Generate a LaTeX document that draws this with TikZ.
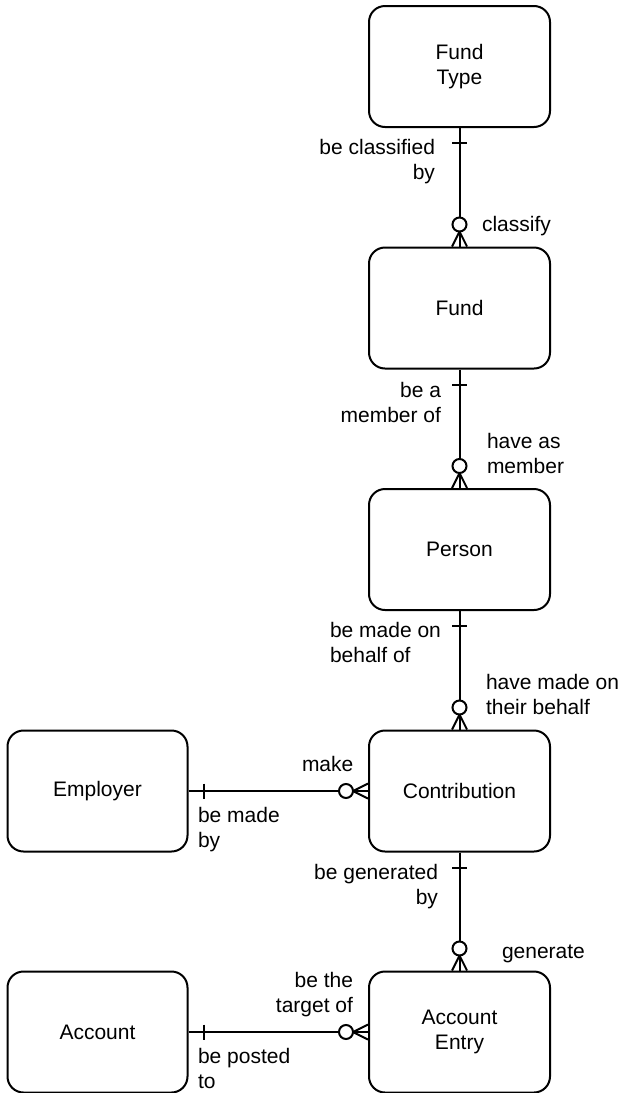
\documentclass[tikz,border=0pt]{standalone}
\usepackage{fontspec}
\setmainfont{Liberation Sans}
\usetikzlibrary{calc}
\newcommand\erfont{\fontsize{21}{25}\selectfont}
% vertical relationship: one (tick) at #1, zero-or-many (circle + crow's foot) at #2
\newcommand\erlinkv[2]{%
  \draw (#1.south) -- (#2.north);
  \draw ($(#1.south)+(-7.5pt,-15pt)$) -- ($(#1.south)+(7.5pt,-15pt)$);
  \draw ($(#2.north)+(-7.5pt,0pt)$) -- ($(#2.north)+(0pt,15pt)$) -- ($(#2.north)+(7.5pt,0pt)$);
  \draw[fill=white] ($(#2.north)+(0pt,22pt)$) circle[radius=7pt];
}
% horizontal relationship: one at #1 (left), zero-or-many at #2 (right)
\newcommand\erlinkh[2]{%
  \draw (#1.east) -- (#2.west);
  \draw ($(#1.east)+(15pt,7.5pt)$) -- ($(#1.east)+(15pt,-7.5pt)$);
  \draw ($(#2.west)+(0pt,7.5pt)$) -- ($(#2.west)+(-15pt,0pt)$) -- ($(#2.west)+(0pt,-7.5pt)$);
  \draw[fill=white] ($(#2.west)+(-22pt,0pt)$) circle[radius=7pt];
}
\begin{document}
\begin{tikzpicture}[x=1pt,y=-1pt,line width=2pt,
  entity/.style={draw,rounded corners=16pt,minimum width=181pt,minimum height=121pt,
    align=center,inner sep=0pt,font=\erfont},
  role/.style={inner sep=0pt,font=\erfont}]
\useasboundingbox (0,0) rectangle (621,1093);

% entities
\node[entity] (fundtype) at (459.5,66.5) {Fund\\Type};
\node[entity] (fund) at (459.5,308) {Fund};
\node[entity] (person) at (459.5,549.5) {Person};
\node[entity] (contrib) at (459.5,791) {Contribution};
\node[entity] (entry) at (459.5,1032) {Account\\Entry};
\node[entity,minimum width=180pt] (employer) at (97.5,791) {Employer};
\node[entity,minimum width=180pt] (account) at (97.5,1032) {Account};

% relationships
\erlinkv{fundtype}{fund}
\erlinkv{fund}{person}
\erlinkv{person}{contrib}
\erlinkv{contrib}{entry}
\erlinkh{employer}{contrib}
\erlinkh{account}{entry}

% role names (multi-line nodes are placed by the baseline of their last line)
\node[role,anchor=base east,align=right] (r1) at (436,179) {be classified\\by};
\node[role,anchor=base west] (r2) at (481,231) {classify};
\node[role,anchor=base east,align=right] (r3) at (442,422) {be a\\member of};
\node[role,anchor=base west,align=left] (r4) at (486,473) {have as\\member};
\node[role,anchor=base west,align=left] (r5) at (329,662) {be made on\\behalf of};
\node[role,anchor=base west,align=left] (r6) at (485,714) {have made on\\their behalf};
\node[role,anchor=base east,align=right] (r7) at (439,904) {be generated\\by};
\node[role,anchor=base west] (r8) at (501,958) {generate};
\node[role,anchor=base west] (r9) at (301,771) {make};
\node[role,anchor=base west,align=left] (r10) at (197,847) {be made\\by};
\node[role,anchor=base east,align=right] (r11) at (354,1012) {be the\\target of};
\node[role,anchor=base west,align=left] (r12) at (197,1088) {be posted\\to};
\end{tikzpicture}
\end{document}
